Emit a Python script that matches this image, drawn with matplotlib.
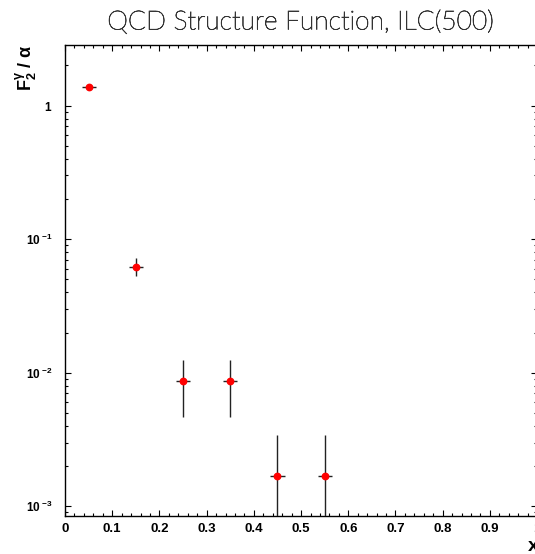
import numpy as np
import matplotlib
matplotlib.use("Agg")
import matplotlib.pyplot as plt
import matplotlib.patheffects as pe
from matplotlib.ticker import MultipleLocator, LogLocator, FixedLocator, NullFormatter

# values
xBins = [0.05, 0.15, 0.25, 0.35, 0.45, 0.55]
xHalfWidth = [0.015, 0.015, 0.015, 0.015, 0.015, 0.015]
f2OverAlpha = [1.39, 0.0624, 0.0086, 0.0086, 0.00169, 0.00169]
f2Err = [0.04, 0.0098, 0.0039, 0.0039, 0.00174, 0.00174]

yTickValues = [1, 0.1, 0.01, 0.001]
yTickLabels = [r'$\mathbf{1}$', r'$\mathbf{10}^{\ \mathbf{-1}}$',
               r'$\mathbf{10}^{\ \mathbf{-2}}$', r'$\mathbf{10}^{\ \mathbf{-3}}$']
xTickValues = [0, 0.1, 0.2, 0.3, 0.4, 0.5, 0.6, 0.7, 0.8, 0.9, 1.0]
xTickLabels = ['0', '0.1', '0.2', '0.3', '0.4', '0.5', '0.6', '0.7', '0.8', '0.9', '1']

plt.rcParams['font.family'] = ['Liberation Sans', 'DejaVu Sans']
plt.rcParams['mathtext.fontset'] = 'custom'
plt.rcParams['mathtext.rm'] = 'Liberation Sans'
plt.rcParams['mathtext.bf'] = 'Liberation Sans:bold'
plt.rcParams['mathtext.it'] = 'Liberation Sans:italic'

fig = plt.figure(figsize=(5.35, 5.54), dpi=100)
ax = fig.add_axes([0.1215, 0.0691, 0.8825, 0.8502])

ax.errorbar(xBins, f2OverAlpha, xerr=xHalfWidth, yerr=f2Err, fmt='o',
            color='red', markersize=4.6, ecolor='#222222', elinewidth=1.0,
            capsize=0, zorder=3)

ax.set_yscale('log')
ax.set_xlim(0, 1)
ax.set_ylim(8.5e-4, 2.86)

ax.xaxis.set_major_locator(FixedLocator(xTickValues))
ax.set_xticklabels(xTickLabels, fontsize=9.5, fontweight='bold')
ax.xaxis.set_minor_locator(MultipleLocator(0.02))

ax.yaxis.set_major_locator(FixedLocator(yTickValues))
ax.set_yticklabels(yTickLabels, fontsize=8.5)
ax.yaxis.set_minor_locator(LogLocator(base=10, subs=np.arange(2, 10)))
ax.yaxis.set_minor_formatter(NullFormatter())

ax.tick_params(which='both', direction='in', top=True, right=True, width=0.8)
ax.tick_params(which='major', length=4.5)
ax.tick_params(which='minor', length=2.2)
ax.tick_params(axis='x', pad=5)
ax.tick_params(axis='y', pad=9)
for sp in ax.spines.values():
    sp.set_linewidth(1.0)

title = fig.text(0.561, 0.96, 'QCD Structure Function, ILC(500)', ha='center', va='center',
                 fontsize=19, fontweight='light', color='#333333', family=['Lato', 'DejaVu Sans'])
title.set_path_effects([pe.withStroke(linewidth=0.5, foreground='#333333')])
fig.text(0.05, 0.919, r'$\mathbf{F_2^{\gamma}\ /\ \alpha}$', rotation=90, ha='center', va='top',
         fontsize=13)
fig.text(0.997, 0.0144, 'x', ha='center', va='center', fontsize=14, fontweight='bold')

fig.savefig('out.png', dpi=100)
